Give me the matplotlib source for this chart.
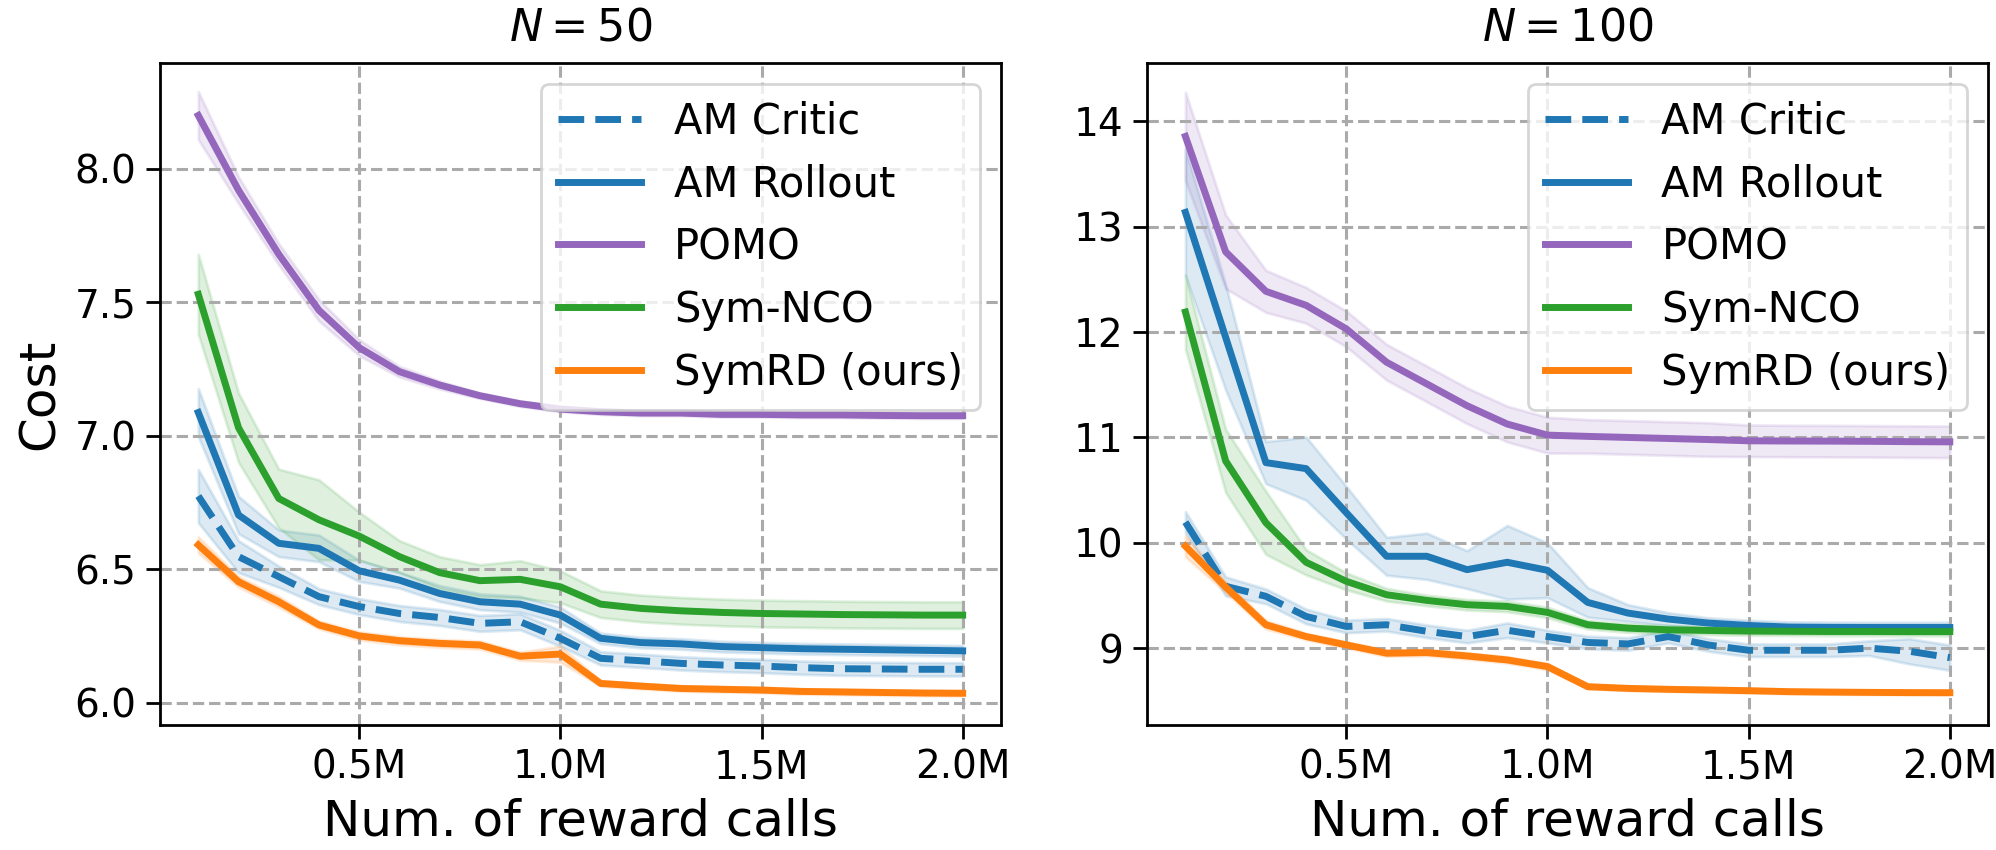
import numpy as np
import matplotlib
matplotlib.use("Agg")
import matplotlib.pyplot as plt
from matplotlib.ticker import FuncFormatter

# reward calls, in millions
calls = [0.1, 0.2, 0.3, 0.4, 0.5, 0.6, 0.7, 0.8, 0.9, 1.0,
         1.1, 1.2, 1.3, 1.4, 1.5, 1.6, 1.7, 1.8, 1.9, 2.0]

methods = ["AM Critic", "AM Rollout", "POMO", "Sym-NCO", "SymRD (ours)"]

# N = 50
critic_50 = [6.774, 6.547, 6.472, 6.397, 6.360, 6.334, 6.319, 6.297, 6.303, 6.241,
             6.166, 6.157, 6.147, 6.141, 6.137, 6.131, 6.127, 6.126, 6.125, 6.125]
critic_50_std = [0.10, 0.06, 0.04, 0.03, 0.03, 0.03, 0.03, 0.03, 0.03, 0.03,
                 0.025, 0.025, 0.025, 0.025, 0.025, 0.025, 0.025, 0.025, 0.025, 0.025]
rollout_50 = [7.087, 6.703, 6.597, 6.578, 6.494, 6.459, 6.409, 6.378, 6.369, 6.328,
              6.241, 6.225, 6.220, 6.210, 6.206, 6.202, 6.200, 6.198, 6.196, 6.194]
rollout_50_std = [0.09, 0.07, 0.05, 0.05, 0.04, 0.03, 0.03, 0.03, 0.03, 0.03,
                  0.02, 0.02, 0.02, 0.02, 0.02, 0.02, 0.02, 0.02, 0.02, 0.02]
pomo_50 = [8.200, 7.920, 7.680, 7.470, 7.330, 7.240, 7.190, 7.150, 7.120, 7.100,
           7.090, 7.085, 7.085, 7.080, 7.080, 7.078, 7.078, 7.076, 7.075, 7.075]
pomo_50_std = [0.09, 0.05, 0.04, 0.04, 0.03, 0.02, 0.015, 0.01, 0.01, 0.01,
               0.01, 0.01, 0.01, 0.01, 0.01, 0.01, 0.01, 0.01, 0.01, 0.01]
symnco_50 = [7.530, 7.030, 6.765, 6.685, 6.624, 6.547, 6.487, 6.457, 6.462, 6.434,
             6.369, 6.353, 6.344, 6.338, 6.334, 6.332, 6.330, 6.329, 6.328, 6.328]
symnco_50_std = [0.15, 0.13, 0.11, 0.15, 0.09, 0.06, 0.06, 0.06, 0.07, 0.06,
                 0.05, 0.05, 0.05, 0.05, 0.05, 0.05, 0.05, 0.05, 0.05, 0.05]
symrd_50 = [6.591, 6.453, 6.378, 6.291, 6.250, 6.232, 6.222, 6.216, 6.174, 6.182,
            6.072, 6.062, 6.053, 6.050, 6.047, 6.042, 6.040, 6.038, 6.036, 6.035]
symrd_50_std = [0.03, 0.02, 0.02, 0.015, 0.015, 0.015, 0.015, 0.015, 0.015, 0.03,
                0.01, 0.01, 0.01, 0.01, 0.01, 0.01, 0.01, 0.01, 0.01, 0.01]

# N = 100
critic_100 = [10.196, 9.587, 9.492, 9.301, 9.206, 9.222, 9.160, 9.110, 9.170, 9.110,
              9.054, 9.040, 9.110, 9.030, 8.980, 8.980, 8.980, 9.000, 8.970, 8.910]
critic_100_std = [0.10, 0.09, 0.07, 0.07, 0.06, 0.06, 0.06, 0.06, 0.07, 0.06,
                  0.06, 0.06, 0.06, 0.06, 0.06, 0.06, 0.06, 0.07, 0.12, 0.12]
rollout_100 = [13.136, 11.950, 10.761, 10.704, 10.285, 9.872, 9.872, 9.745, 9.815, 9.739,
               9.434, 9.333, 9.276, 9.238, 9.215, 9.200, 9.197, 9.196, 9.196, 9.196]
rollout_100_std = [0.60, 0.50, 0.20, 0.30, 0.25, 0.18, 0.22, 0.18, 0.35, 0.26,
                   0.14, 0.08, 0.06, 0.05, 0.05, 0.05, 0.05, 0.05, 0.05, 0.05]
pomo_100 = [13.857, 12.762, 12.387, 12.254, 12.030, 11.714, 11.508, 11.301, 11.127, 11.022,
            11.010, 11.000, 10.990, 10.980, 10.968, 10.966, 10.965, 10.963, 10.960, 10.958]
pomo_100_std = [0.42, 0.35, 0.20, 0.17, 0.17, 0.17, 0.17, 0.17, 0.17, 0.17,
                0.16, 0.16, 0.16, 0.16, 0.15, 0.15, 0.15, 0.15, 0.15, 0.15]
symnco_100 = [12.190, 10.777, 10.190, 9.815, 9.634, 9.507, 9.453, 9.412, 9.396, 9.339,
              9.222, 9.190, 9.174, 9.168, 9.162, 9.160, 9.158, 9.158, 9.157, 9.157]
symnco_100_std = [0.35, 0.30, 0.30, 0.12, 0.08, 0.06, 0.05, 0.05, 0.05, 0.05,
                  0.04, 0.04, 0.04, 0.04, 0.04, 0.04, 0.04, 0.04, 0.04, 0.04]
symrd_100 = [9.968, 9.580, 9.222, 9.110, 9.031, 8.952, 8.958, 8.926, 8.888, 8.825,
             8.634, 8.618, 8.609, 8.603, 8.596, 8.587, 8.583, 8.580, 8.578, 8.577]
symrd_100_std = [0.10, 0.05, 0.04, 0.03, 0.03, 0.03, 0.03, 0.03, 0.03, 0.03,
                 0.02, 0.02, 0.02, 0.02, 0.02, 0.02, 0.02, 0.02, 0.02, 0.02]

colors = ["tab:blue", "tab:blue", "tab:purple", "tab:green", "tab:orange"]
styles = ["--", "-", "-", "-", "-"]


def draw_panel(ax, series, title, ylim, yticks):
    x = np.array(calls)
    for name, (mean, std), color, ls in zip(methods, series, colors, styles):
        mean = np.array(mean)
        std = np.array(std)
        ax.fill_between(x, mean - std, mean + std, color=color, alpha=0.15, lw=1)
        ax.plot(x, mean, ls, color=color, lw=2.5, label=name)
    ax.set_title(title, fontsize=16, pad=8)
    ax.set_xlabel("Num. of reward calls", fontsize=18)
    ax.set_xticks([0.5, 1.0, 1.5, 2.0])
    ax.xaxis.set_major_formatter(FuncFormatter(lambda v, _: f"{v:.1f}M"))
    ax.set_yticks(yticks)
    ax.set_ylim(*ylim)
    ax.tick_params(labelsize=14, length=5, width=1)
    for spine in ax.spines.values():
        spine.set_linewidth(1.0)
    ax.grid(True, linestyle="--", linewidth=1.1, color="#aaaaaa")
    ax.legend(loc="upper right", fontsize=15)


fig, (ax1, ax2) = plt.subplots(1, 2, figsize=(9.98, 4.25), dpi=200)
fig.subplots_adjust(left=0.0802, right=0.996, bottom=0.147, top=0.926, wspace=0.174)

draw_panel(ax1, [(critic_50, critic_50_std), (rollout_50, rollout_50_std),
                 (pomo_50, pomo_50_std), (symnco_50, symnco_50_std),
                 (symrd_50, symrd_50_std)],
           r"$N = 50$", (5.916, 8.397), [6.0, 6.5, 7.0, 7.5, 8.0])
ax1.set_ylabel("Cost", fontsize=18)

draw_panel(ax2, [(critic_100, critic_100_std), (rollout_100, rollout_100_std),
                 (pomo_100, pomo_100_std), (symnco_100, symnco_100_std),
                 (symrd_100, symrd_100_std)],
           r"$N = 100$", (8.27, 14.555), [9, 10, 11, 12, 13, 14])

fig.savefig("out.png", dpi=200)
